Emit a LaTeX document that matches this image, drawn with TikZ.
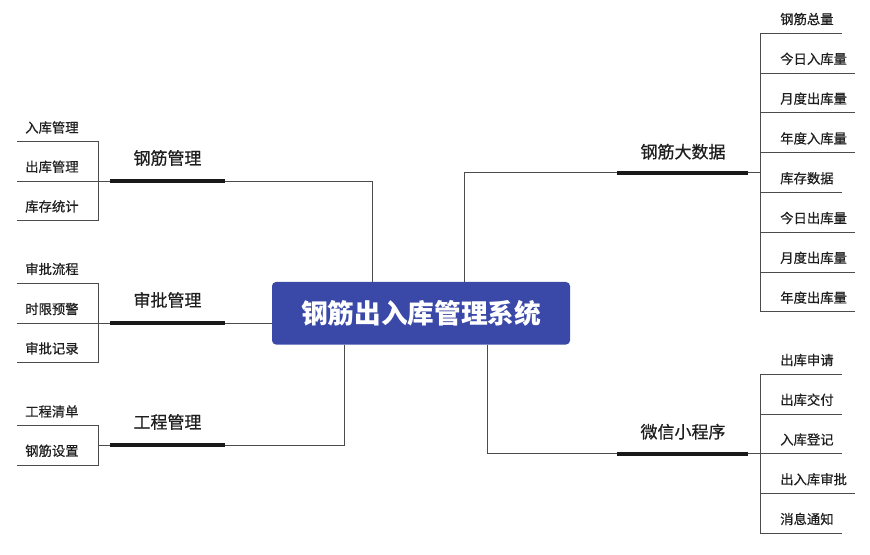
\documentclass[tikz,border=0pt]{standalone}
\usepackage{fontspec}
\setmainfont{Noto Sans CJK SC}
\newfontfamily\semibold[FakeBold=0.6]{Noto Sans CJK SC}
\usepackage{tikz}
\usetikzlibrary{calc}
\definecolor{rootblue}{RGB}{58,73,168}
\definecolor{linegray}{RGB}{75,75,75}
\definecolor{barblack}{RGB}{25,25,25}
\definecolor{textdark}{RGB}{30,30,30}

\begin{document}
\begin{tikzpicture}[x=0.75pt,y=0.75pt,yscale=-1,xscale=1,
  link/.style={draw=linegray,line width=0.75pt},
  thickbar/.style={draw=barblack,line width=3pt},
  sysbox/.style={fill=rootblue,rounded corners=3pt,minimum width=223.5pt,minimum height=46.9pt,inner sep=0pt,text=white,font=\fontsize{20}{24}\selectfont\bfseries},
  branch/.style={text=textdark,font=\semibold\fontsize{12.75}{15}\selectfont},
  leaf/.style={anchor=south west,inner xsep=6pt,inner ysep=5.5pt,text height=8.8pt,text depth=1.2pt,text=textdark,font=\semibold\fontsize{10}{12}\selectfont},
  leafL/.style={leaf,append after command={(\tikzlastnode.south west) edge[link] (\tikzlastnode.south -| busL)}},
  leafR/.style={leaf,append after command={(\tikzlastnode.south -| busR) edge[link] (\tikzlastnode.south east)}}]
\useasboundingbox (0,0) rectangle (870,554);
\coordinate (busL) at (98.5,0);
\coordinate (busR) at (760,0);
%Root
\node[sysbox] (sys) at (421,313.25) {钢筋出入库管理系统};

%Branch: 钢筋管理
\node[leafL] (gj1) at (17,141.7) {入库管理};
\node[leafL] (gj2) at (17,181) {出库管理};
\node[leafL] (gj3) at (17,220.7) {库存统计};
\coordinate (gjA) at (110,181);
\coordinate (gjB) at (224.5,181);
\node[branch] (gjm) at (167.5,158) {钢筋管理};
\draw[link] (gj1.south -| busL) -- (gj3.south -| busL);
\draw[link] (busL |- gjA) -- (gjA);
\draw[thickbar] (gjA) -- (gjB);
\draw[link] (gjB) -| ($(sys.north west)+(101,0)$);

%Branch: 审批管理
\node[leafL] (sp1) at (17,283.3) {审批流程};
\node[leafL] (sp2) at (17,323.3) {时限预警};
\node[leafL] (sp3) at (17,362.7) {审批记录};
\coordinate (spA) at (110,323.3);
\coordinate (spB) at (224.5,323.3);
\node[branch] (spm) at (167.5,300) {审批管理};
\draw[link] (sp1.south -| busL) -- (sp3.south -| busL);
\draw[link] (busL |- spA) -- (spA);
\draw[thickbar] (spA) -- (spB);
\draw[link] (spB) -- (spB -| sys.west);

%Branch: 工程管理
\node[leafL] (gc1) at (17,425.7) {工程清单};
\node[leafL] (gc2) at (17,465) {钢筋设置};
\coordinate (gcA) at (110,445.3);
\coordinate (gcB) at (224.5,445.3);
\node[branch] (gcm) at (167.5,422) {工程管理};
\draw[link] (gc1.south -| busL) -- (gc2.south -| busL);
\draw[link] (busL |- gcA) -- (gcA);
\draw[thickbar] (gcA) -- (gcB);
\draw[link] (gcB) -| ($(sys.south west)+(73,0)$);

%Branch: 钢筋大数据
\node[leafR] (ds1) at (772,33.3) {钢筋总量};
\node[leafR] (ds2) at (772,73.1) {今日入库量};
\node[leafR] (ds3) at (772,112.9) {月度出库量};
\node[leafR] (ds4) at (772,152.7) {年度入库量};
\node[leafR] (ds5) at (772,192.5) {库存数据};
\node[leafR] (ds6) at (772,232.3) {今日出库量};
\node[leafR] (ds7) at (772,272.1) {月度出库量};
\node[leafR] (ds8) at (772,311.9) {年度出库量};
\coordinate (dsA) at (617,172.6);
\coordinate (dsB) at (748,172.6);
\node[branch] (dsm) at (683,151.7) {钢筋大数据};
\draw[link] (ds1.south -| busR) -- (ds8.south -| busR);
\draw[link] (dsB) -- (busR |- dsB);
\draw[thickbar] (dsA) -- (dsB);
\draw[link] (dsA) -| ($(sys.north west)+(193,0)$);

%Branch: 微信小程序
\node[leafR] (wx1) at (772,374.3) {出库申请};
\node[leafR] (wx2) at (772,414.05) {出库交付};
\node[leafR] (wx3) at (772,453.8) {入库登记};
\node[leafR] (wx4) at (772,493.55) {出入库审批};
\node[leafR] (wx5) at (772,533.3) {消息通知};
\coordinate (wxA) at (617,453.8);
\coordinate (wxB) at (748,453.8);
\node[branch] (wxm) at (683,431.7) {微信小程序};
\draw[link] (wx1.south -| busR) -- (wx5.south -| busR);
\draw[link] (wxB) -- (busR |- wxB);
\draw[thickbar] (wxA) -- (wxB);
\draw[link] (wxA) -| ($(sys.south west)+(216,0)$);
\end{tikzpicture}
\end{document}
